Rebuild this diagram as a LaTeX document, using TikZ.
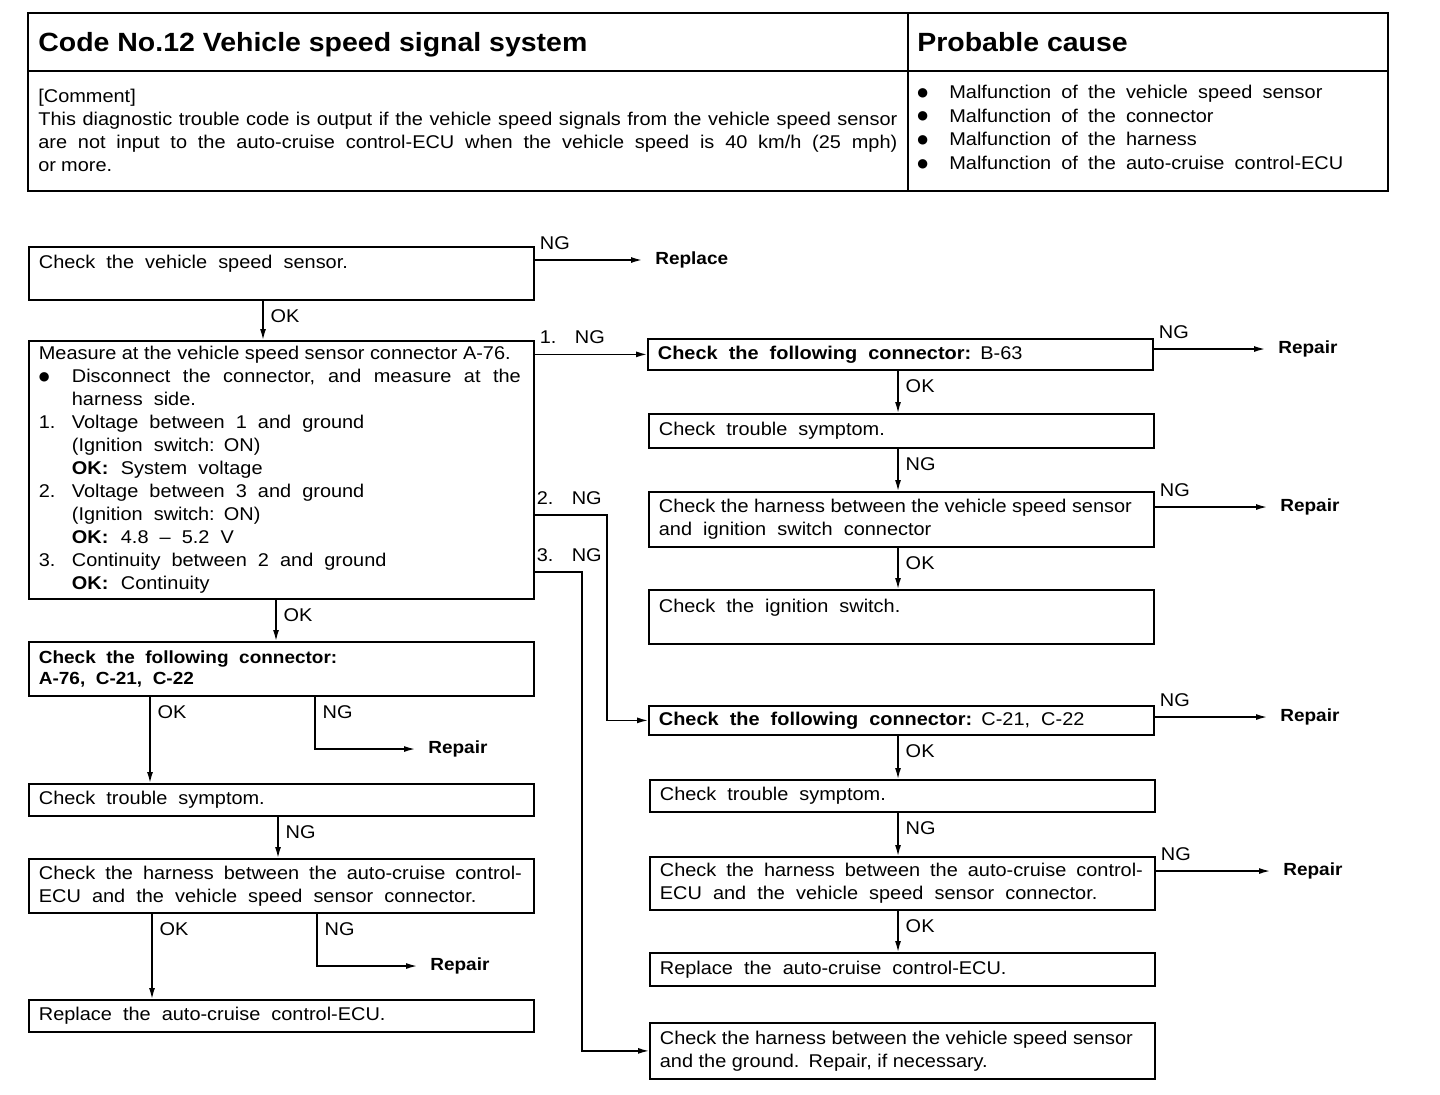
\documentclass[tikz,border=0pt]{standalone}
\usepackage{fontspec}
\setmainfont[FakeStretch=1.08]{Liberation Sans}
\newfontfamily\symfont{DejaVu Sans}
\usetikzlibrary{arrows.meta}

\newcommand{\itm}[2][6.6mm]{\makebox[#1][l]{#2}}
\newcommand{\ind}{\hspace*{6.6mm}}
\newcommand{\nrm}[1]{{\spaceskip=0pt\relax #1}}
\newcommand{\bul}{\raisebox{1.3pt}{\symfont\fontsize{7}{8}\selectfont ●}}

\tikzset{
  box/.style={draw, line width=1pt, anchor=north west, align=left,
    inner xsep=2mm, inner ysep=0pt, text width=97mm,
    execute at begin node={\spaceskip=0.6em plus 0.2em\relax}},
  arr/.style={-{Latex[length=2.2mm,width=1.2mm]}, line width=0.8pt},
  vlab/.style={pos=0, below right, inner xsep=4pt, inner ysep=4.5pt},
  hlab/.style={pos=0, above right, inner xsep=2.5pt, inner ysep=5.5pt},
  endlab/.style={anchor=west, font=\bfseries, inner xsep=2.6mm},
}

\begin{document}
\begin{tikzpicture}[x=0.2mm, y=-0.2mm, font=\fontsize{10.5}{13.1}\selectfont]
\useasboundingbox (0,0) rectangle (1440,1094);

% header table
\draw[line width=1.3pt] (28,13) rectangle (1388,191);
\draw[line width=1pt] (28,71) -- (1388,71) (908,13) -- (908,191);
\node[anchor=west, inner sep=0, font=\fontsize{15}{17}\selectfont\bfseries] (title) at (38,45) {Code No.12 Vehicle speed signal system};
\node[anchor=west, inner sep=0, font=\fontsize{15}{17}\selectfont\bfseries] (cause) at (917,42) {Probable cause};
\node[anchor=north west, inner sep=0, text width=171.8mm, align=left,
  execute at begin node={\spaceskip=0.28em plus 1em\relax}] (comment) at (38,89)
  {[Comment]\\
   \makebox[171.8mm][s]{This diagnostic trouble code is output if the vehicle speed signals from the vehicle speed sensor}\\
   \makebox[171.8mm][s]{are not input to the auto-cruise control-ECU when the vehicle speed is 40 km/h (25 mph)}\\
   or more.};
\node[anchor=north west, inner sep=0, align=left, font=\fontsize{10.5}{13.4}\selectfont,
  execute at begin node={\spaceskip=0.55em\relax}] (causes) at (917,85)
  {\itm[6.4mm]{\bul}Malfunction of the vehicle speed sensor\\
   \itm[6.4mm]{\bul}Malfunction of the connector\\
   \itm[6.4mm]{\bul}Malfunction of the harness\\
   \itm[6.4mm]{\bul}Malfunction of the auto-cruise control-ECU};

% left column
\node[box, minimum height=10.6mm] (sensor) at (28,246) {Check the vehicle speed sensor.\\\mbox{}};
\node[box, minimum height=51.6mm] (measure) at (28,340)
  {\nrm{Measure at the vehicle speed sensor connector A-76.}\\
   \itm{\bul}\makebox[89.8mm][s]{Disconnect the connector, and measure at the}\\
   \ind harness side.\\
   \itm{1.}Voltage between 1 and ground\\
   \ind(Ignition switch: ON)\\
   \ind\textbf{OK:}\hspace{2.5mm}System voltage\\
   \itm{2.}Voltage between 3 and ground\\
   \ind(Ignition switch: ON)\\
   \ind\textbf{OK:}\hspace{2.5mm}4.8 -- 5.2 V\\
   \itm{3.}Continuity between 2 and ground\\
   \ind\textbf{OK:}\hspace{2.5mm}Continuity};
\node[box, minimum height=10.8mm, font=\bfseries] (connA) at (28,641) {Check the following connector:\\A-76, C-21, C-22};
\node[box, minimum height=6.4mm] (symA) at (28,783) {Check trouble symptom.};
\node[box, minimum height=10.8mm] (harnA) at (28,858)
  {\nrm{\makebox[96.6mm][s]{Check the harness between the auto-cruise control-}}\\ECU and the vehicle speed sensor connector.};
\node[box, minimum height=6.4mm] (ecuA) at (28,999) {Replace the auto-cruise control-ECU.};

% right column
\node[box, minimum height=6.2mm] (connB) at (647,338) {\textbf{Check the following connector:} B-63};
\node[box, minimum height=6.8mm] (symB) at (648,413) {Check trouble symptom.};
\node[box, minimum height=11mm] (harnB) at (648,491) {\nrm{Check the harness between the vehicle speed sensor}\\and ignition switch connector};
\node[box, minimum height=10.8mm] (ign) at (648,589) {Check the ignition switch.\\\mbox{}};
\node[box, minimum height=5.8mm] (connC) at (648,705) {\textbf{Check the following connector:} C-21, C-22};
\node[box, minimum height=6.4mm] (symC) at (649,779) {Check trouble symptom.};
\node[box, minimum height=10.6mm] (harnC) at (649,856)
  {\nrm{\makebox[96.6mm][s]{Check the harness between the auto-cruise control-}}\\ECU and the vehicle speed sensor connector.};
\node[box, minimum height=6.6mm] (ecuC) at (649,952) {Replace the auto-cruise control-ECU.};
\node[box, minimum height=11.2mm] (ground) at (649,1022) {\nrm{Check the harness between the vehicle speed sensor}\\\nrm{and the ground. Repair, if necessary.}};

% end actions
\node[endlab] (replace) at (642,260) {Replace};
\node[endlab] (repB) at (1265,349) {Repair};
\node[endlab] (repH) at (1267,507) {Repair};
\node[endlab] (repC) at (1267,717) {Repair};
\node[endlab] (repE) at (1270,871) {Repair};
\node[endlab] (repA) at (415,749) {Repair};
\node[endlab] (repF) at (417,966) {Repair};

% connectors
\draw[arr] (sensor.east |- replace.west) -- (replace.west) node[hlab] {NG};
\draw[arr] (263,0 |- sensor.south) -- (263,0 |- measure.north) node[vlab] {OK};
\draw[arr] (measure.east |- connB.west) -- (connB.west) node[hlab] {1.\quad NG};
\draw[arr] (measure.east |- 0,515) -- (607,515) |- (connC.west);
\node[above right, inner xsep=2.5pt, inner ysep=5.5pt] (ng2) at (532,515) {2.\quad NG};
\draw[arr] (measure.east |- 0,572) -- (582,572) |- (ground.west);
\node[above right, inner xsep=2.5pt, inner ysep=5.5pt] (ng3) at (532,572) {3.\quad NG};
\draw[arr] (276,0 |- measure.south) -- (276,0 |- connA.north) node[vlab] {OK};
\draw[arr] (150,0 |- connA.south) -- (150,0 |- symA.north) node[vlab] {OK};
\draw[arr] (315,0 |- connA.south) |- (repA.west) node[vlab] {NG};
\draw[arr] (278,0 |- symA.south) -- (278,0 |- harnA.north) node[vlab] {NG};
\draw[arr] (152,0 |- harnA.south) -- (152,0 |- ecuA.north) node[vlab] {OK};
\draw[arr] (317,0 |- harnA.south) |- (repF.west) node[vlab] {NG};

\draw[arr] (connB.east |- repB.west) -- (repB.west) node[hlab] {NG};
\draw[arr] (898,0 |- connB.south) -- (898,0 |- symB.north) node[vlab] {OK};
\draw[arr] (898,0 |- symB.south) -- (898,0 |- harnB.north) node[vlab] {NG};
\draw[arr] (harnB.east |- repH.west) -- (repH.west) node[hlab] {NG};
\draw[arr] (898,0 |- harnB.south) -- (898,0 |- ign.north) node[vlab] {OK};

\draw[arr] (connC.east |- repC.west) -- (repC.west) node[hlab] {NG};
\draw[arr] (898,0 |- connC.south) -- (898,0 |- symC.north) node[vlab] {OK};
\draw[arr] (898,0 |- symC.south) -- (898,0 |- harnC.north) node[vlab] {NG};
\draw[arr] (harnC.east |- repE.west) -- (repE.west) node[hlab] {NG};
\draw[arr] (898,0 |- harnC.south) -- (898,0 |- ecuC.north) node[vlab] {OK};
\end{tikzpicture}
\end{document}
